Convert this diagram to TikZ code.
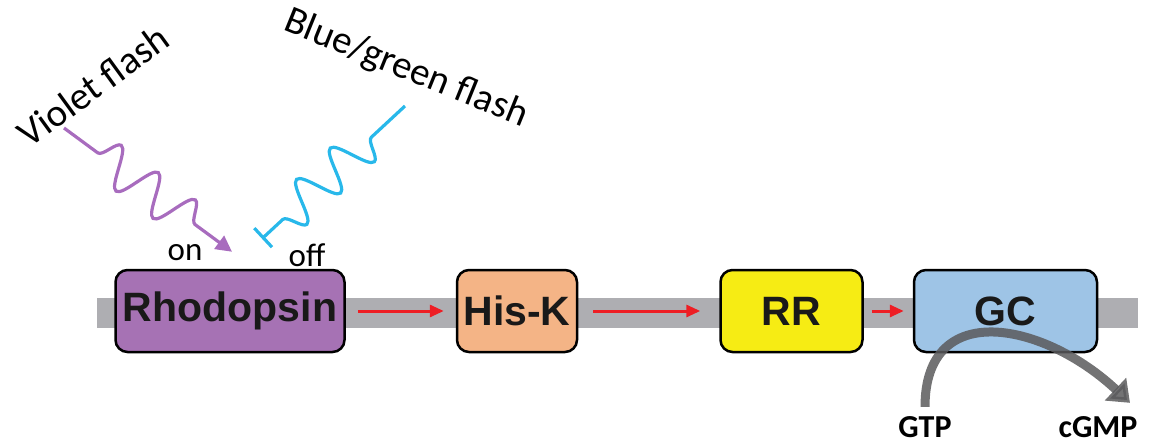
\documentclass[tikz,border=0pt]{standalone}
\usepackage{fontspec}
\setmainfont{Carlito}
\newfontfamily\boxfont{Liberation Sans}
\usetikzlibrary{arrows.meta,positioning,decorations.pathmorphing}

\definecolor{rhodfill}{RGB}{166,114,180}
\definecolor{hisfill}{RGB}{244,180,134}
\definecolor{rrfill}{RGB}{246,236,20}
\definecolor{gcfill}{RGB}{158,196,230}
\definecolor{membrane}{RGB}{174,174,178}
\definecolor{violetwave}{RGB}{168,108,190}
\definecolor{bluewave}{RGB}{40,184,234}
\definecolor{signalred}{RGB}{238,30,36}
\definecolor{convgray}{RGB}{90,90,92}

\begin{document}
\begin{tikzpicture}[x=1pt, y=-1pt,
    protein/.style={rectangle, rounded corners=12pt, draw=black, line width=2.5pt,
        minimum height=82pt, inner sep=0pt,
        font=\boxfont\bfseries\fontsize{41}{44}\selectfont, text=black!90},
    signal/.style={-{Triangle[length=14pt,width=12pt]}, draw=signalred, line width=3pt},
    flash/.style={font=\fontsize{39}{42}\selectfont},
    wave/.style={line width=3.2pt, decorate,
        decoration={snake, segment length=46pt, amplitude=20pt, pre length=42pt, post length=24pt}},
    small/.style={font=\fontsize{33}{36}\selectfont},
    product/.style={font=\bfseries\fontsize{32}{34}\selectfont}]
    \useasboundingbox (0,0) rectangle (1153,446);

    % membrane
    \fill[membrane] (97,298) rectangle (1138,328);

    % signalling chain
    \node[protein, fill=rhodfill, minimum width=229pt] (rhod) at (230,311) {Rhodopsin};
    \node[protein, fill=hisfill, minimum width=120pt, right=110pt of rhod] (hisk) {His-K};
    \node[protein, fill=rrfill, minimum width=142pt, right=141pt of hisk] (rr) {RR};
    \node[protein, fill=gcfill, minimum width=183pt, right=49pt of rr] (gc) {GC};

    \draw[signal, shorten <=12pt, shorten >=12pt] (rhod) -- (hisk);
    \draw[signal, shorten <=15pt, shorten >=19pt] (hisk) -- (rr);
    \draw[signal, shorten <=8pt, shorten >=9pt] (rr) -- (gc);

    % light switching
    \node[small] (on) at (185,253) {on};
    \node[small] (off) at (307,255) {off};
    \coordinate (violetsrc) at (64,128);
    \coordinate (bluesrc) at (405,106);
    \coordinate (onpt) at ([xshift=2pt, yshift=17pt]rhod.north);
    \coordinate (offpt) at ([xshift=32pt, yshift=30pt]rhod.north);
    \node[flash, rotate=36] (vflash) at (93,86) {Violet flash};
    \node[flash, rotate=-22] (bflash) at (406,69) {Blue/green flash};

    \draw[violetwave, wave, -{Triangle[length=16pt,width=16pt]}] (violetsrc) -- (onpt);
    \draw[bluewave, wave, decoration={pre length=46pt, post length=14pt}, -{Bar[width=26pt]}] (bluesrc) -- (offpt);

    % GTP -> cGMP
    \node[product] (gtp) at (925,427) {GTP};
    \node[product] (cgmp) at (1098,427) {cGMP};
    \draw[convgray, opacity=0.85, line width=9pt, -{Triangle[length=20pt,width=30pt]}]
        ([yshift=6pt]gtp.north) .. controls +(0,-110) and +(-85,-80) .. ([xshift=32pt, yshift=10pt]cgmp.north);
\end{tikzpicture}
\end{document}
